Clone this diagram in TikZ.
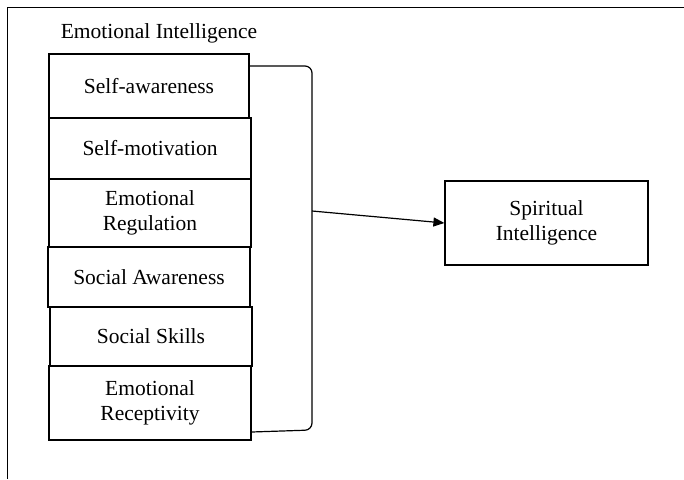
\documentclass[tikz,border=0pt]{standalone}
\usepackage{fontspec}
\setmainfont{Liberation Serif}
\usetikzlibrary{arrows.meta,positioning}

\begin{document}
\begin{tikzpicture}[x=1pt, y=-1pt]
			\tikzstyle{every node}=[font=\fontsize{21.5}{24.5}\selectfont]
			\tikzstyle{dimbox}=[draw, line width=1.2pt, align=center, inner sep=0pt, minimum width=202pt]
			\useasboundingbox (0,0) rectangle (684,479);
			% frame
			\draw [line width=1pt] (684,7.5) -- (7.5,7.5) -- (7.5,479);
			\node (title) at (159,33) {Emotional Intelligence};
			\node [dimbox, minimum width=200pt, minimum height=64pt] (selfaw) at (149,86) {Self-awareness};
			\node [dimbox, minimum height=61pt] (selfmot) at (150,148.5) {Self-motivation};
			\node [dimbox, minimum height=68pt] (emoreg) at (150,213) {Emotional\\Regulation};
			\node [dimbox, minimum height=60pt] (socaw) at (149,277) {Social Awareness};
			\node [dimbox, minimum height=59pt] (socsk) at (151,336.5) {Social Skills};
			\node [dimbox, minimum height=74pt] (emorec) at (150,403) {Emotional\\Receptivity};
			\node [dimbox, minimum width=203pt, minimum height=84pt] (spirit) at (546.5,223) {Spiritual\\Intelligence};
			% bracket
			\coordinate (bstart) at (selfaw.east |- 0,66);
			\coordinate (bend) at (emorec.east |- 0,432);
			\coordinate (bmid) at (312,211);
			\draw [line width=1.2pt, rounded corners=7pt] (bstart) -- (312,66) -- (312,430) -- (bend);
			\draw [line width=1.2pt, -{Triangle[length=11pt, width=9pt]}] (bmid) -- (spirit.west);
		\end{tikzpicture}
\end{document}
